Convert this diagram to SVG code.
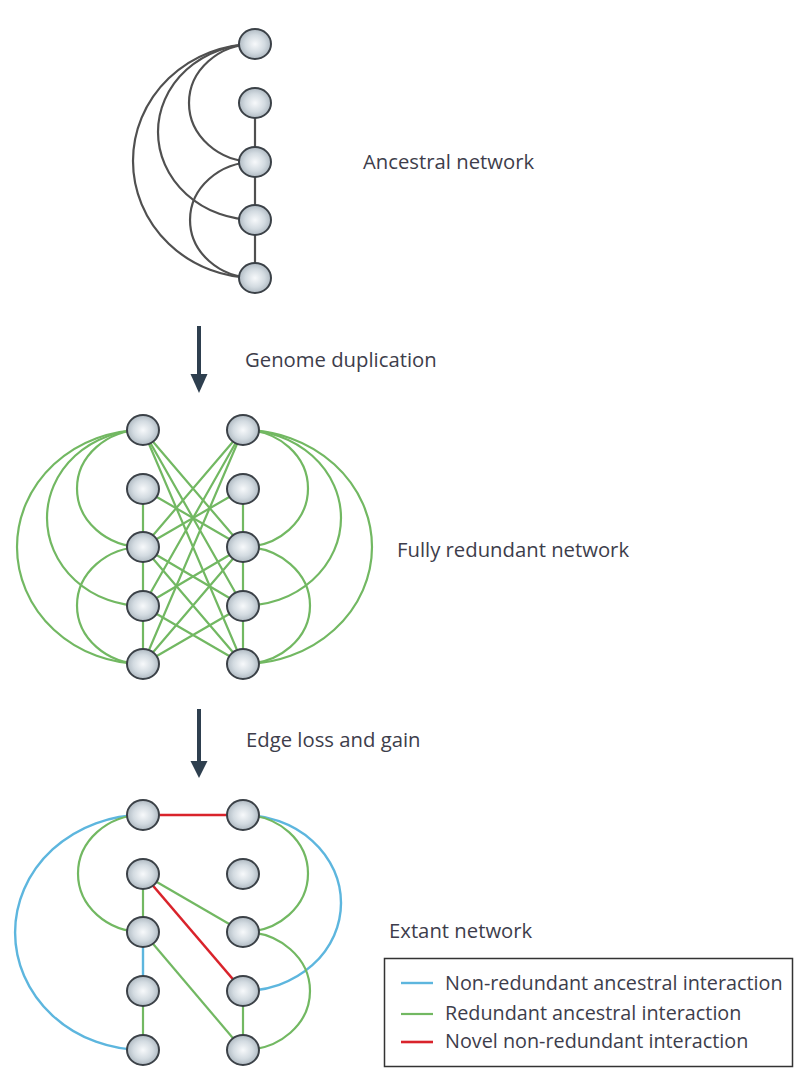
<svg xmlns="http://www.w3.org/2000/svg" width="794" height="1068" viewBox="0 0 794 1068">
  <defs>
    <radialGradient id="nodeFill" cx="0.5" cy="0.5" r="0.55">
      <stop offset="0" stop-color="#f7f9fb"/>
      <stop offset="0.55" stop-color="#d3dbe1"/>
      <stop offset="1" stop-color="#a7b2bb"/>
    </radialGradient>
    <style>
      .node { fill: url(#nodeFill); stroke: #3b4147; stroke-width: 2; }
      .anc { fill: none; stroke: #505050; stroke-width: 2.2; }
      .grn { fill: none; stroke: #72b862; stroke-width: 2.2; }
      .blu { fill: none; stroke: #5db6de; stroke-width: 2.4; }
      .red { fill: none; stroke: #d9232b; stroke-width: 2.6; }
      .step { fill: #2e3f4f; stroke: none; }
      .label { font-family: "Open Sans", "Liberation Sans", sans-serif; font-size: 20.3px; fill: #3d3d4b; }
      .legend { font-family: "Open Sans", "Liberation Sans", sans-serif; font-size: 19.8px; fill: #3d3d4b; }
    </style>
  </defs>
  <rect width="794" height="1068" fill="#ffffff"/>

  <!-- ancestral network connectors -->
  <g id="ancestral-edges">
    <path class="anc" d="M255,44 A66,59 0 0 0 255,162"/>
    <path class="anc" d="M255,44 A97,88 0 0 0 255,220"/>
    <path class="anc" d="M255,44 A122,117 0 0 0 255,278"/>
    <path class="anc" d="M255,162 A65,58 0 0 0 255,278"/>
    <path class="anc" d="M255,103 V278"/>
  </g>
  <g id="ancestral-nodes">
    <ellipse id="a1" class="node" cx="255" cy="44" rx="16" ry="15"/>
    <ellipse id="a2" class="node" cx="255" cy="103" rx="16" ry="15"/>
    <ellipse id="a3" class="node" cx="255" cy="162" rx="16" ry="15"/>
    <ellipse id="a4" class="node" cx="255" cy="220" rx="16" ry="15"/>
    <ellipse id="a5" class="node" cx="255" cy="278" rx="16" ry="15"/>
  </g>
  <text class="label" x="363" y="169">Ancestral network</text>

  <!-- step arrow: genome duplication -->
  <g id="step-duplication">
    <rect class="step" x="197" y="326" width="4" height="52"/>
    <polygon class="step" points="190.5,374 207.5,374 199,393"/>
  </g>
  <text class="label" x="245" y="367">Genome duplication</text>

  <!-- fully redundant network connectors -->
  <g id="redundant-edges">
    <!-- left copy arcs -->
    <path class="grn" d="M143,430 A66,58.5 0 0 0 143,547"/>
    <path class="grn" d="M143,430 A96,88 0 0 0 143,606"/>
    <path class="grn" d="M143,430 A126,117 0 0 0 143,664"/>
    <path class="grn" d="M143,547 A66,58.5 0 0 0 143,664"/>
    <path class="grn" d="M143,489 V664"/>
    <!-- right copy arcs -->
    <path class="grn" d="M243,430 A65,58.5 0 0 1 243,547"/>
    <path class="grn" d="M243,430 A98,88 0 0 1 243,606"/>
    <path class="grn" d="M243,430 A129,117 0 0 1 243,664"/>
    <path class="grn" d="M243,547 A67,58.5 0 0 1 243,664"/>
    <path class="grn" d="M243,489 V664"/>
    <!-- cross links between copies -->
    <path class="grn" d="M143,430 L243,547 M143,547 L243,430"/>
    <path class="grn" d="M143,430 L243,606 M143,606 L243,430"/>
    <path class="grn" d="M143,430 L243,664 M143,664 L243,430"/>
    <path class="grn" d="M143,547 L243,664 M143,664 L243,547"/>
    <path class="grn" d="M143,489 L243,547 M143,547 L243,489"/>
    <path class="grn" d="M143,547 L243,606 M143,606 L243,547"/>
    <path class="grn" d="M143,606 L243,664 M143,664 L243,606"/>
  </g>
  <g id="redundant-nodes">
    <ellipse id="r-l1" class="node" cx="143" cy="430" rx="16" ry="15"/>
    <ellipse id="r-l2" class="node" cx="143" cy="489" rx="16" ry="15"/>
    <ellipse id="r-l3" class="node" cx="143" cy="547" rx="16" ry="15"/>
    <ellipse id="r-l4" class="node" cx="143" cy="606" rx="16" ry="15"/>
    <ellipse id="r-l5" class="node" cx="143" cy="664" rx="16" ry="15"/>
    <ellipse id="r-r1" class="node" cx="243" cy="430" rx="16" ry="15"/>
    <ellipse id="r-r2" class="node" cx="243" cy="489" rx="16" ry="15"/>
    <ellipse id="r-r3" class="node" cx="243" cy="547" rx="16" ry="15"/>
    <ellipse id="r-r4" class="node" cx="243" cy="606" rx="16" ry="15"/>
    <ellipse id="r-r5" class="node" cx="243" cy="664" rx="16" ry="15"/>
  </g>
  <text class="label" x="397" y="557">Fully redundant network</text>

  <!-- step arrow: edge loss and gain -->
  <g id="step-loss-gain">
    <rect class="step" x="197" y="709" width="4" height="56"/>
    <polygon class="step" points="190.5,761 207.5,761 199,778"/>
  </g>
  <text class="label" x="246" y="747">Edge loss and gain</text>

  <!-- extant network connectors -->
  <g id="extant-edges">
    <path class="blu" d="M143,815 A128,117.5 0 0 0 143,1050"/>
    <path class="blu" d="M243,815 A98,88 0 0 1 243,991"/>
    <path class="blu" d="M143,932 V991"/>
    <path class="grn" d="M143,815 A65,58.5 0 0 0 143,932"/>
    <path class="grn" d="M243,815 A65,58.5 0 0 1 243,932"/>
    <path class="grn" d="M243,932 A67,59 0 0 1 243,1050"/>
    <path class="grn" d="M143,874 V932"/>
    <path class="grn" d="M143,991 V1050"/>
    <path class="grn" d="M243,991 V1050"/>
    <path class="grn" d="M143,874 L243,932"/>
    <path class="grn" d="M143,932 L243,1050"/>
    <path class="red" d="M143,815 H243"/>
    <path class="red" d="M143,874 L243,991"/>
  </g>
  <g id="extant-nodes">
    <ellipse id="e-l1" class="node" cx="143" cy="815" rx="16" ry="15"/>
    <ellipse id="e-l2" class="node" cx="143" cy="874" rx="16" ry="15"/>
    <ellipse id="e-l3" class="node" cx="143" cy="932" rx="16" ry="15"/>
    <ellipse id="e-l4" class="node" cx="143" cy="991" rx="16" ry="15"/>
    <ellipse id="e-l5" class="node" cx="143" cy="1050" rx="16" ry="15"/>
    <ellipse id="e-r1" class="node" cx="243" cy="815" rx="16" ry="15"/>
    <ellipse id="e-r2" class="node" cx="243" cy="874" rx="16" ry="15"/>
    <ellipse id="e-r3" class="node" cx="243" cy="932" rx="16" ry="15"/>
    <ellipse id="e-r4" class="node" cx="243" cy="991" rx="16" ry="15"/>
    <ellipse id="e-r5" class="node" cx="243" cy="1050" rx="16" ry="15"/>
  </g>
  <text class="label" x="389" y="938">Extant network</text>

  <!-- legend -->
  <g id="legend">
    <rect x="384.5" y="958.5" width="408" height="108" fill="#ffffff" stroke="#333333" stroke-width="1.5"/>
    <line class="blu" x1="401" y1="983" x2="433" y2="983" stroke-width="3"/>
    <line class="grn" x1="401" y1="1014" x2="433" y2="1014" stroke-width="3"/>
    <line class="red" x1="401" y1="1042" x2="433" y2="1042" stroke-width="3"/>
    <text class="legend" x="445" y="990">Non-redundant ancestral interaction</text>
    <text class="legend" x="445" y="1020">Redundant ancestral interaction</text>
    <text class="legend" x="445" y="1048">Novel non-redundant interaction</text>
  </g>
</svg>
